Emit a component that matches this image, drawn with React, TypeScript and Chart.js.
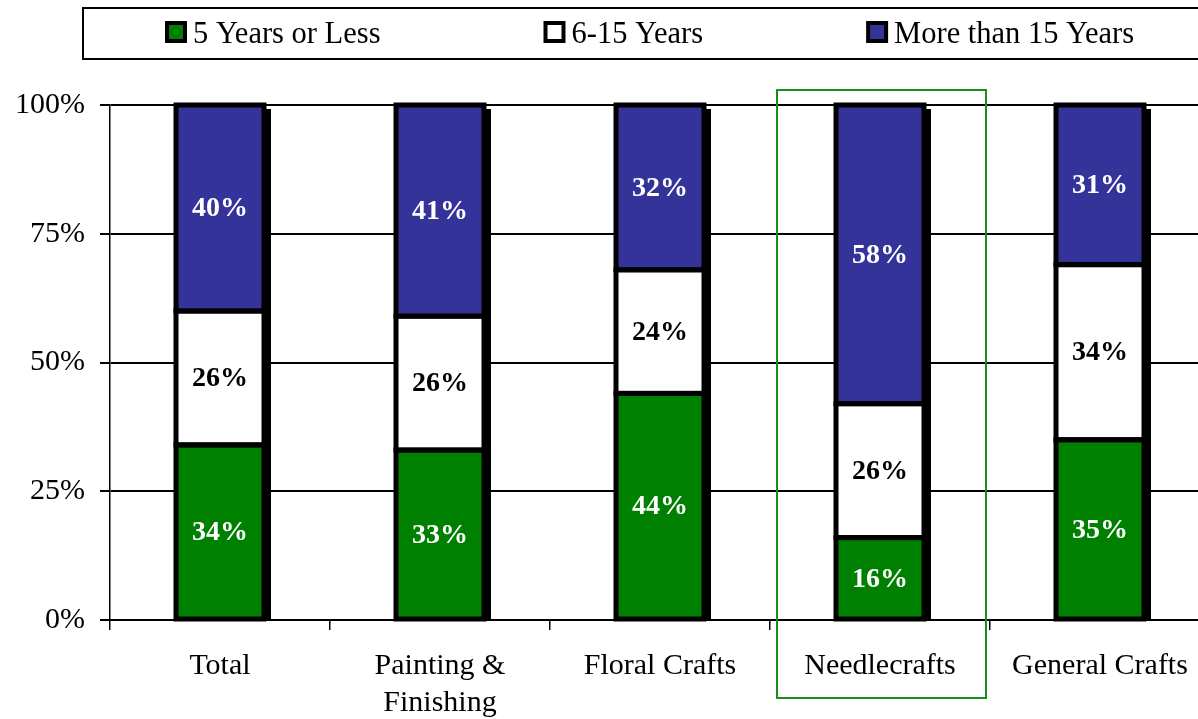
import React, { useEffect, useRef } from "react";
import { Chart, registerables } from "chart.js";

Chart.register(...registerables);

const categories: (string | string[])[] = [
  "Total",
  ["Painting &", "Finishing"],
  "Floral Crafts",
  "Needlecrafts",
  "General Crafts",
];
const seriesNames = ["5 Years or Less", "6-15 Years", "More than 15 Years"];
const fiveOrLess = [34, 33, 44, 16, 35];
const sixToFifteen = [26, 26, 24, 26, 34];
const moreThanFifteen = [40, 41, 32, 58, 31];
const yTicks = [0, 25, 50, 75, 100];
const highlightIndex = 3;

const COLORS = ["#008000", "#FFFFFF", "#333399"];
const LABEL_COLORS = ["#FFFFFF", "#000000", "#FFFFFF"];
const FONT = "'Liberation Serif', 'Times New Roman', serif";

const CANVAS_W = 1216;
const CANVAS_H = 730;

const barDecorPlugin = {
  id: "barDecor",
  afterDatasetsDraw(chart: any) {
    const ctx = chart.ctx;
    const yScale = chart.scales.y;
    const xScale = chart.scales.x;
    const n = chart.data.labels.length;
    const dsCount = chart.data.datasets.length;
    ctx.save();
    // shadows
    for (let j = 0; j < n; j++) {
      let top = Infinity;
      let x = 0;
      let w = 0;
      for (let i = 0; i < dsCount; i++) {
        const el = chart.getDatasetMeta(i).data[j];
        const p = el.getProps(["x", "y", "base", "width"], true);
        top = Math.min(top, p.y, p.base);
        x = p.x;
        w = p.width;
      }
      const base = yScale.getPixelForValue(0);
      ctx.fillStyle = "#000";
      ctx.fillRect(x + w / 2, top + 4, 7, base - top - 4);
    }
    // outlines
    ctx.strokeStyle = "#000";
    ctx.lineWidth = 5;
    for (let i = 0; i < dsCount; i++) {
      const meta = chart.getDatasetMeta(i);
      meta.data.forEach((el: any) => {
        const p = el.getProps(["x", "y", "base", "width"], true);
        const top = Math.min(p.y, p.base);
        const h = Math.abs(p.base - p.y);
        ctx.strokeRect(p.x - p.width / 2, top, p.width, h);
      });
    }
    // value labels
    ctx.font = `bold 28px ${FONT}`;
    ctx.textAlign = "center";
    ctx.textBaseline = "middle";
    for (let i = 0; i < dsCount; i++) {
      const meta = chart.getDatasetMeta(i);
      const values = chart.data.datasets[i].data;
      ctx.fillStyle = LABEL_COLORS[i];
      meta.data.forEach((el: any, j: number) => {
        const p = el.getProps(["x", "y", "base"], true);
        ctx.fillText(values[j] + "%", p.x, (p.y + p.base) / 2 + 1);
      });
    }
    // highlight frame around one category
    const cx = xScale.getPixelForValue(highlightIndex);
    ctx.strokeStyle = "#1a8f1a";
    ctx.lineWidth = 2;
    const topY = yScale.getPixelForValue(100) - 15;
    const botY = yScale.bottom + 78;
    ctx.strokeRect(cx - 103, topY, 209, botY - topY);
    ctx.restore();
  },
  afterDraw(chart: any) {
    const ctx = chart.ctx;
    ctx.save();
    // legend frame
    ctx.strokeStyle = "#000";
    ctx.lineWidth = 2;
    ctx.strokeRect(83, 8, chart.width, 51);
    ctx.font = `30.5px ${FONT}`;
    ctx.textAlign = "left";
    ctx.textBaseline = "alphabetic";
    let x = 165;
    seriesNames.forEach((name, i) => {
      ctx.fillStyle = "#000";
      ctx.fillRect(x, 21, 22, 22);
      ctx.fillStyle = COLORS[i];
      ctx.fillRect(x + 4, 25, 14, 14);
      ctx.fillStyle = "#000";
      ctx.fillText(name, x + 28, 43);
      x = x + 28 + ctx.measureText(name).width + 163;
    });
    ctx.restore();
  },
};

export default function App() {
  const canvasRef = useRef<HTMLCanvasElement | null>(null);

  useEffect(() => {
    if (!canvasRef.current) return;
    const seriesData = [fiveOrLess, sixToFifteen, moreThanFifteen];
    const chart = new Chart(canvasRef.current, {
      type: "bar",
      data: {
        labels: categories as any,
        datasets: seriesNames.map((name, i) => ({
          label: name,
          data: seriesData[i],
          backgroundColor: COLORS[i],
          borderWidth: 0,
          barPercentage: 0.4,
          categoryPercentage: 1,
        })),
      },
      options: {
        responsive: false,
        animation: false,
        devicePixelRatio: 1,
        layout: { padding: { top: 105, left: 0, right: 6, bottom: 0 } },
        plugins: {
          legend: { display: false },
          tooltip: { enabled: false },
        },
        scales: {
          x: {
            stacked: true,
            offset: true,
            grid: {
              offset: true,
              drawOnChartArea: false,
              drawTicks: true,
              tickLength: 10,
              color: "#000",
              lineWidth: 1.5,
            },
            border: { display: true, color: "#000", width: 2 },
            ticks: {
              color: "#000",
              font: { family: FONT, size: 30, lineHeight: 1.25 },
              padding: 17,
              maxRotation: 0,
              autoSkip: false,
            },
            afterFit(scale: any) {
              scale.height = CANVAS_H - 620;
            },
          },
          y: {
            stacked: true,
            min: 0,
            max: 100,
            afterBuildTicks(scale: any) {
              scale.ticks = yTicks.map((v) => ({ value: v }));
            },
            grid: {
              color: "#000",
              lineWidth: 2,
              drawTicks: true,
              tickLength: 10,
            },
            border: { display: true, color: "#000", width: 1.5 },
            ticks: {
              color: "#000",
              font: { family: FONT, size: 30 },
              padding: 15,
              callback: (v: any) => v + "%",
            },
            afterFit(scale: any) {
              scale.width = 110;
            },
          },
        },
      } as any,
      plugins: [barDecorPlugin],
    });
    return () => chart.destroy();
  }, []);

  return (
    <div
      style={{
        position: "fixed",
        left: 0,
        top: 0,
        width: 1198,
        height: 719,
        overflow: "hidden",
        background: "#fff",
      }}
    >
      <canvas
        ref={canvasRef}
        width={CANVAS_W}
        height={CANVAS_H}
        style={{ display: "block", width: CANVAS_W, height: CANVAS_H }}
      />
    </div>
  );
}
